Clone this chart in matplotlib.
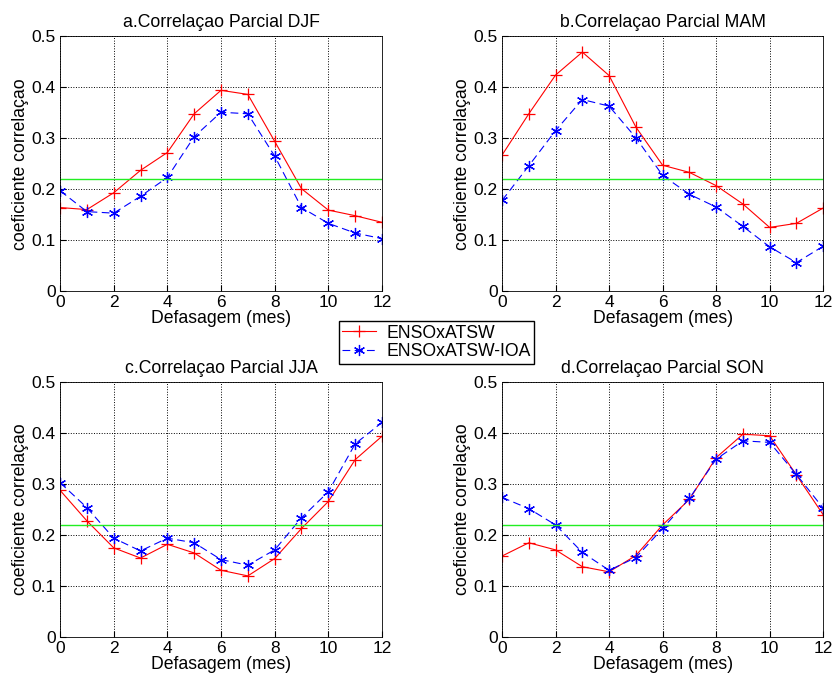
import matplotlib.pyplot as plt
import numpy as np

plt.rcParams['font.family'] = ['Liberation Sans', 'DejaVu Sans']

# defasagem em meses
lags = np.arange(0, 13)

# ENSO x ATSW (correlacao parcial)
djf_atsw = [0.164, 0.160, 0.193, 0.237, 0.272, 0.348, 0.394, 0.386, 0.294, 0.201, 0.159, 0.148, 0.135]
mam_atsw = [0.267, 0.348, 0.424, 0.469, 0.423, 0.322, 0.247, 0.233, 0.207, 0.171, 0.125, 0.133, 0.163]
jja_atsw = [0.288, 0.228, 0.175, 0.155, 0.182, 0.165, 0.131, 0.120, 0.154, 0.213, 0.266, 0.348, 0.394]
son_atsw = [0.159, 0.185, 0.171, 0.138, 0.128, 0.160, 0.220, 0.270, 0.352, 0.398, 0.395, 0.318, 0.240]

# ENSO x ATSW - IOA
djf_ioa = [0.197, 0.156, 0.153, 0.186, 0.223, 0.303, 0.351, 0.348, 0.265, 0.164, 0.133, 0.114, 0.103]
mam_ioa = [0.178, 0.246, 0.315, 0.376, 0.363, 0.301, 0.227, 0.190, 0.165, 0.127, 0.087, 0.056, 0.088]
jja_ioa = [0.303, 0.254, 0.194, 0.169, 0.194, 0.185, 0.152, 0.141, 0.171, 0.234, 0.285, 0.379, 0.421]
son_ioa = [0.274, 0.252, 0.220, 0.166, 0.131, 0.156, 0.213, 0.272, 0.349, 0.385, 0.382, 0.319, 0.253]

titles = ['a.Correlaçao Parcial DJF', 'b.Correlaçao Parcial MAM',
          'c.Correlaçao Parcial JJA', 'd.Correlaçao Parcial SON']
limiar = 0.22  # nivel de significancia

fig = plt.figure(figsize=(8.34, 6.85), dpi=100)

# posicoes dos eixos [esq, base, larg, alt]
posicoes = [[0.072, 0.575, 0.386, 0.372],
            [0.602, 0.575, 0.385, 0.372],
            [0.072, 0.070, 0.386, 0.372],
            [0.602, 0.070, 0.385, 0.372]]

series = [(djf_atsw, djf_ioa), (mam_atsw, mam_ioa),
          (jja_atsw, jja_ioa), (son_atsw, son_ioa)]

fs = 12.7
for pos, (s1, s2), titulo in zip(posicoes, series, titles):
    ax = fig.add_axes(pos)
    l1, = ax.plot(lags, s1, color='red', lw=0.8, marker='+', ms=9, mew=0.9,
                  label='ENSOxATSW')
    # asterisco de 6 pontas, como no matlab
    l2, = ax.plot(lags, s2, color='blue', lw=0.8, ls=(0, (7, 4)),
                  marker=(6, 2, 0), ms=8, mew=0.9, label='ENSOxATSW-IOA')
    ax.axhline(limiar, color='#22ee22', lw=1.0)
    ax.set_xlim(0, 12)
    ax.set_ylim(0, 0.5)
    ax.set_xticks(np.arange(0, 13, 2))
    ax.set_yticks(np.arange(0, 0.51, 0.1))
    ax.set_yticklabels(['0', '0.1', '0.2', '0.3', '0.4', '0.5'])
    ax.grid(True, color='black', ls=':', lw=0.7)
    ax.tick_params(direction='in', labelsize=12.5, length=4, pad=3)
    ax.set_title(titulo, fontsize=fs, pad=7)
    ax.set_xlabel('Defasagem (mes)', fontsize=fs, labelpad=0)
    ax.set_ylabel('coeficiente correlaçao', fontsize=fs, labelpad=2)
    for sp in ax.spines.values():
        sp.set_linewidth(0.6)

fig.legend(handles=[l1, l2], loc='center', bbox_to_anchor=(0.5234, 0.5,),
           fontsize=fs, frameon=True, fancybox=False, edgecolor='black',
           framealpha=1, handlelength=1.9, borderpad=0.2, labelspacing=0.1,
           handletextpad=0.6, borderaxespad=0)

fig.savefig('out.png', dpi=100)
